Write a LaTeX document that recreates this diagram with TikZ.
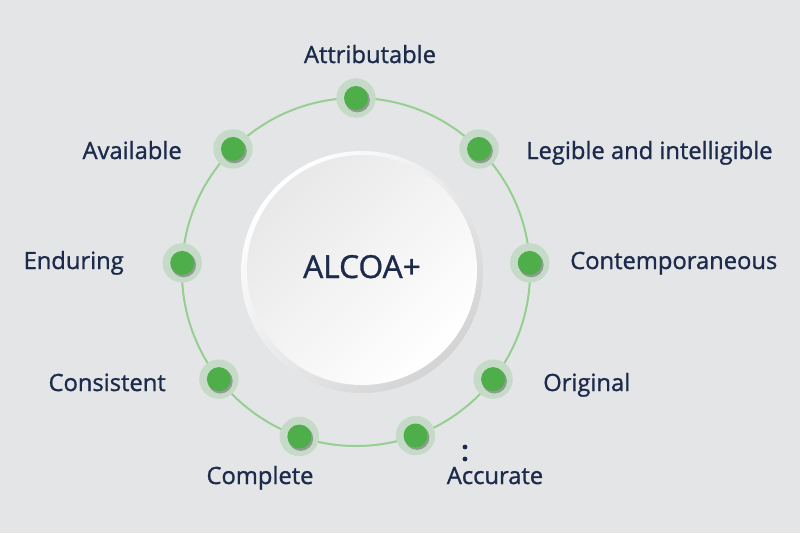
\documentclass[tikz,border=0pt]{standalone}
\usepackage{fontspec}
\setmainfont{Open Sans}[FakeBold=1.1]
\usetikzlibrary{calc}
\definecolor{acbg}{HTML}{E4E5E7}
\definecolor{acnavy}{HTML}{1C2A4B}
\definecolor{acgreen}{HTML}{4DAE4A}
\definecolor{acline}{HTML}{96CF91}
\tikzset{
  acdot/.style={circle, inner sep=0pt, minimum size=29.5pt, fill=acgreen!20!acbg,
    path picture={
      \fill[black, opacity=0.28] ([shift={(1.1pt,-1.5pt)}]path picture bounding box.center) circle (9.3pt);
      \fill[acgreen] (path picture bounding box.center) circle (9pt);
    }},
  aclabel/.style={inner sep=0pt, text=acnavy, font=\fontsize{17.8}{21}\selectfont},
  acspeck/.style={circle, fill=acnavy, inner sep=0pt, minimum size=3.6pt},
}

\begin{document}
\begin{tikzpicture}[x=0.75pt, y=-0.75pt]
  \fill[acbg] (0,0) rectangle (800,533);
  \useasboundingbox (0,0) rectangle (800,533);

  % ring of principles
  \coordinate (ctr) at (356,272);
  \draw[acline, line width=1.5pt] (ctr) circle (130.5pt);

  % centre disc
  \shade[top color=white, bottom color=black!17, shading angle=45] (362,272) circle (90.75pt);
  \shade[top color=black!9, bottom color=white, shading angle=45] (362,270) circle (86.25pt);
  \node[text=acnavy, inner sep=0pt, font=\fontsize{23.8}{28}\selectfont, anchor=base] (core) at (362,278) {ALCOA+};

  % dots
  \node[acdot] (attr) at ($(ctr)+(90:130.5pt)$) {};
  \node[acdot] (legi) at ($(ctr)+(45:130.5pt)$) {};
  \node[acdot] (cont) at ($(ctr)+(3:130.5pt)$) {};
  \node[acdot] (orig) at ($(ctr)+(-38:130.5pt)$) {};
  \node[acdot] (accu) at ($(ctr)+(-70:130.5pt)$) {};
  \node[acdot] (comp) at ($(ctr)+(-109:130.5pt)$) {};
  \node[acdot] (cons) at ($(ctr)+(-142:130.5pt)$) {};
  \node[acdot] (endu) at ($(ctr)+(177:130.5pt)$) {};
  \node[acdot] (avai) at ($(ctr)+(135:130.5pt)$) {};

  % labels
  \node[aclabel, anchor=base] (attrL) at (370,63) {Attributable};
  \node[aclabel, anchor=base west] (legiL) at (526,159) {Legible and intelligible};
  \node[aclabel, anchor=base west] (contL) at (570,269) {Contemporaneous};
  \node[aclabel, anchor=base west] (origL) at (543,391) {Original};
  \node[aclabel, anchor=base] (accuL) at (495,484) {Accurate};
  \node[aclabel, anchor=base] (compL) at (260,484) {Complete};
  \node[aclabel, anchor=base east] (consL) at (166,391) {Consistent};
  \node[aclabel, anchor=base east] (enduL) at (124,269) {Enduring};
  \node[aclabel, anchor=base east] (avaiL) at (182,159) {Available};

  \node[acspeck] (sp1) at (465,447) {};
  \node[acspeck] (sp2) at (465,459) {};
\end{tikzpicture}
\end{document}
